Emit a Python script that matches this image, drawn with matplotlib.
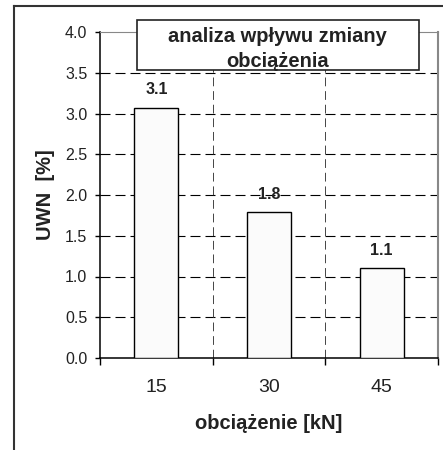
import numpy as np
import matplotlib
matplotlib.use("Agg")
from matplotlib import pyplot as plt
from matplotlib.patches import Rectangle
from matplotlib.lines import Line2D

categories = ["15", "30", "45"]
uwn = [3.07, 1.79, 1.10]
bar_labels = ["3.1", "1.8", "1.1"]
title_text = "analiza wpływu zmiany\nobciążenia"

plt.rcParams["font.family"] = ["Liberation Sans", "DejaVu Sans"]

fig = plt.figure(figsize=(4.43, 4.50), dpi=100)
ax = fig.add_axes([100 / 443, 1 - 358 / 450, 338 / 443, 326 / 450])

x = np.arange(len(categories))
ax.bar(x, uwn, width=0.39, color="#fbfbfb", edgecolor="black", linewidth=1.0, zorder=3)
for xi, v, lab in zip(x, uwn, bar_labels):
    ax.text(xi, v + 0.13, lab, ha="center", va="bottom", fontsize=11.5, fontweight="bold", color="#222222", zorder=4)

ax.set_xlim(-0.5, 2.5)
ax.set_ylim(0, 4)

# dashed grid
for yv in np.arange(0.5, 4.0, 0.5):
    ax.axhline(yv, color="black", lw=0.8, ls=(0, (9, 4.5)), zorder=1)
for xv in [0.5, 1.5]:
    ax.axvline(xv, color="#444444", lw=0.7, ls=(0, (9, 5)), zorder=1)

ax.set_yticks(np.arange(0, 4.01, 0.5))
ax.set_yticklabels(["%.1f" % v for v in np.arange(0, 4.01, 0.5)])
ax.tick_params(axis="y", direction="out", length=3.6, width=1, pad=5.5, labelsize=11.5, colors="black",
               labelcolor="#222222")

ax.set_xticks([-0.5, 0.5, 1.5, 2.5])
ax.set_xticklabels([])
ax.set_xticks(x, minor=True)
ax.set_xticklabels(categories, minor=True)
ax.tick_params(axis="x", which="major", direction="out", length=5, width=1)
ax.tick_params(axis="x", which="minor", length=0, pad=15, labelsize=14, labelcolor="#222222")

ax.spines["left"].set_linewidth(1.1)
ax.spines["bottom"].set_linewidth(1.1)
ax.spines["top"].set_color("#888888")
ax.spines["right"].set_color("#888888")
ax.spines["right"].set_linewidth(1.5)

ax.set_xlabel("obciążenie [kN]", fontsize=14.5, fontweight="bold", labelpad=13, color="#222222")
ax.set_ylabel("UWN  [%]", fontsize=14.5, fontweight="bold", labelpad=7, color="#222222")

# title box
box = Rectangle((0.109, 0.883), 0.835, 0.154, transform=ax.transAxes, facecolor="white",
                edgecolor="#222222", linewidth=1.2, clip_on=False, zorder=5)
ax.add_patch(box)
ax.text(0.526, 0.948, title_text, transform=ax.transAxes, ha="center", va="center",
        fontsize=14.5, fontweight="bold", linespacing=1.45, color="#222222", zorder=6)

# outer frame lines
fig.add_artist(Line2D([14 / 443, 1.0], [1 - 6 / 450, 1 - 6 / 450], color="#333333", lw=1.5))
fig.add_artist(Line2D([14 / 443, 14 / 443], [0.0, 1 - 6 / 450], color="#333333", lw=1.5))

fig.savefig("out.png", dpi=100)
